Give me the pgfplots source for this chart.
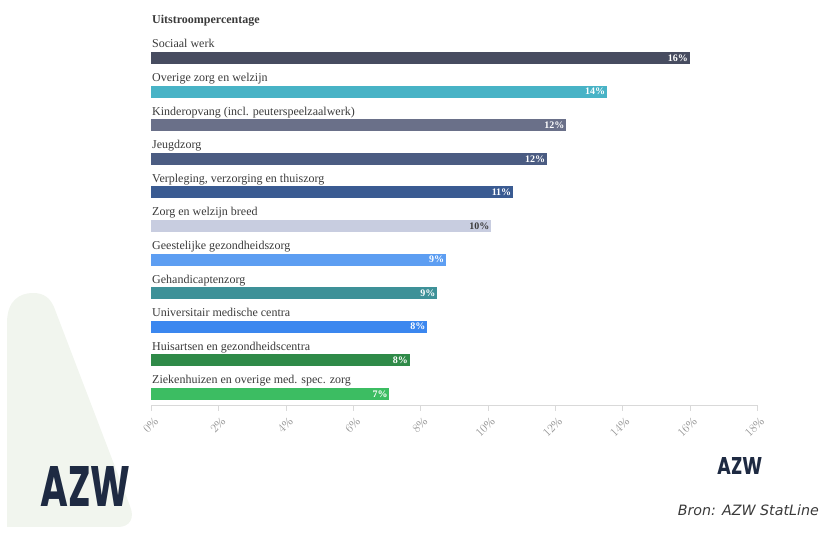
\documentclass[border=0pt]{standalone}
\usepackage{pgfplots}
\pgfplotsset{compat=1.18}
\usepackage{fontspec}
\setmainfont{Liberation Serif}
\newfontfamily\logofont{Poppins}
\newfontfamily\bronfont{DejaVu Sans}
\definecolor{c1}{HTML}{474C60}
\definecolor{c2}{HTML}{48B3C6}
\definecolor{c3}{HTML}{6A7089}
\definecolor{c4}{HTML}{4B5C82}
\definecolor{c5}{HTML}{3A5B92}
\definecolor{c6}{HTML}{C8CDE0}
\definecolor{c7}{HTML}{5D9EF2}
\definecolor{c8}{HTML}{3E9198}
\definecolor{c9}{HTML}{3B87EF}
\definecolor{c10}{HTML}{2F8A48}
\definecolor{c11}{HTML}{3CBD62}
\definecolor{labtext}{HTML}{3A3A3A}
\definecolor{ticktext}{HTML}{959595}
\definecolor{navy}{HTML}{1E2A42}
\definecolor{bgpale}{HTML}{F1F5EE}
\begin{document}
\begin{tikzpicture}[x=1pt,y=1pt]
\path[use as bounding box] (0,0) rectangle (819,538);
\fill[bgpale] (7,11) -- (7,215) .. controls (7,238) and (20,245) .. (33,245) .. controls (44,245) and (50,240) .. (54,231) -- (130,32) .. controls (135,20) and (130,11) .. (118,11) -- cycle;
\begin{axis}[
  at={(151pt,133pt)}, anchor=south west,
  scale only axis, width=606pt, height=375pt,
  xmin=0, xmax=18, ymin=-10.33, ymax=0.833,
  clip=false,
  xbar,
  every axis plot/.append style={bar shift=0pt, bar width=12pt, draw=none},
  axis x line*=bottom, axis y line=none,
  x axis line style={gray!30},
  xtick={0,2,...,18},
  xticklabel={\pgfmathprintnumber{\tick}\%},
  xticklabel style={rotate=45, anchor=east, font=\fontsize{12}{13}\selectfont, text=ticktext, xshift=1.3pt, yshift=-9.6pt},
  major tick length=6pt, tick align=outside,
  tick style={gray!30},
  ytick=\empty,
  point meta=explicit symbolic,
  nodes near coords,
  every node near coord/.append style={anchor=east, text=white, font=\fontsize{10}{11}\selectfont\bfseries, inner xsep=1.5pt},
]
\addplot[fill=c1] coordinates {(16.0,0) [16\%]};
\addplot[fill=c2] coordinates {(13.54,-1) [14\%]};
\addplot[fill=c3] coordinates {(12.33,-2) [12\%]};
\addplot[fill=c4] coordinates {(11.76,-3) [12\%]};
\addplot[fill=c5] coordinates {(10.75,-4) [11\%]};
\addplot[fill=c6, every node near coord/.append style={text=labtext}] coordinates {(10.10,-5) [10\%]};
\addplot[fill=c7] coordinates {(8.76,-6) [9\%]};
\addplot[fill=c8] coordinates {(8.50,-7) [9\%]};
\addplot[fill=c9] coordinates {(8.20,-8) [8\%]};
\addplot[fill=c10] coordinates {(7.68,-9) [8\%]};
\addplot[fill=c11] coordinates {(7.08,-10) [7\%]};
\begin{scope}[every node/.style={anchor=base west, inner sep=0pt, xshift=1pt, text=labtext, font=\fontsize{12}{13}\selectfont}]
\node at (axis cs:0,0.30) {Sociaal werk};
\node at (axis cs:0,-0.70) {Overige zorg en welzijn};
\node at (axis cs:0,-1.70) {Kinderopvang (incl. peuterspeelzaalwerk)};
\node at (axis cs:0,-2.70) {Jeugdzorg};
\node at (axis cs:0,-3.70) {Verpleging, verzorging en thuiszorg};
\node at (axis cs:0,-4.70) {Zorg en welzijn breed};
\node at (axis cs:0,-5.70) {Geestelijke gezondheidszorg};
\node at (axis cs:0,-6.70) {Gehandicaptenzorg};
\node at (axis cs:0,-7.70) {Universitair medische centra};
\node at (axis cs:0,-8.70) {Huisartsen en gezondheidscentra};
\node at (axis cs:0,-9.70) {Ziekenhuizen en overige med. spec. zorg};
\end{scope}
\end{axis}
\node[anchor=base west, inner sep=0pt, text=labtext, font=\fontsize{12}{13}\selectfont\bfseries] at (152,514) {Uitstroompercentage};
\node[anchor=south west, inner sep=0pt, text=navy] at (40,31) {\resizebox{90pt}{40pt}{\logofont\bfseries AZW}};
\node[anchor=south west, inner sep=0pt, text=navy] at (717,63) {\resizebox{45pt}{17pt}{\logofont\bfseries AZW}};
\node[anchor=base east, inner sep=0pt, text=labtext] at (819,22) {\resizebox{141pt}{!}{\bronfont\itshape Bron: AZW StatLine}};
\end{tikzpicture}
\end{document}
